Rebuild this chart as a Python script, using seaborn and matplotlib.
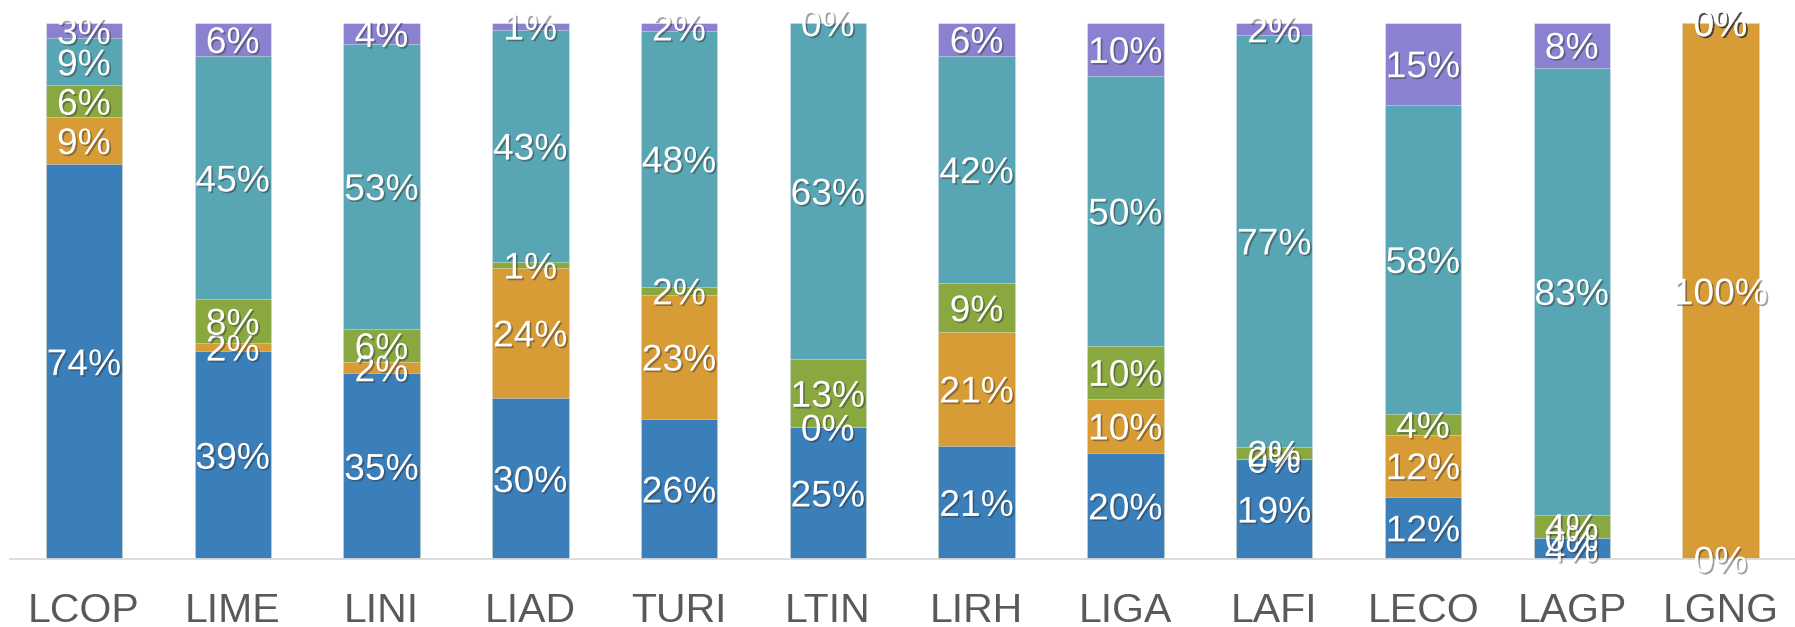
import numpy as np
import matplotlib
matplotlib.use("Agg")
import matplotlib.pyplot as plt
import matplotlib.patheffects as pe
import seaborn as sns

# ---------- DATA (share in %) ----------

categories = ["LCOP", "LIME", "LINI", "LIAD", "TURI", "LTIN",
              "LIRH", "LIGA", "LAFI", "LECO", "LAGP", "LGNG"]

blue_vals   = [73.6, 38.7, 34.6, 30.0, 26.1, 24.6, 21.1, 19.8, 18.6, 11.6, 4.0, 0.0]
orange_vals = [8.8, 1.6, 2.1, 24.3, 23.1, 0.0, 21.2, 10.0, 0.0, 11.6, 0.0, 100.0]
green_vals  = [5.9, 8.1, 6.2, 1.0, 1.6, 12.6, 9.1, 10.0, 2.3, 3.8, 4.2, 0.0]
teal_vals   = [8.8, 45.3, 53.1, 43.4, 47.6, 62.8, 42.4, 50.2, 76.8, 57.7, 83.4, 0.0]
purple_vals = [2.9, 6.3, 4.0, 1.3, 1.6, 0.0, 6.2, 10.0, 2.3, 15.3, 8.4, 0.0]

series = [blue_vals, orange_vals, green_vals, teal_vals, purple_vals]
colors = ["#3A7FB9", "#D89C36", "#8AA840", "#58A6B3", "#8A81D0"]

# ---------- FIGURE ----------

sns.set_style("white")
plt.rcParams["font.family"] = ["Liberation Sans", "DejaVu Sans"]

W, H = 1795, 627
fig = plt.figure(figsize=(W / 100, H / 100), dpi=100)
ax = fig.add_axes([9.6 / W, 68 / H, 1 - 9.6 / W, 536.3 / H])

vals = np.array(series)
tops = np.cumsum(vals, axis=0)
bottoms = tops - vals

# stacked bars: draw cumulative totals from the top series down
for i in range(len(series) - 1, -1, -1):
    sns.barplot(
        x=categories,
        y=tops[i],
        color=colors[i],
        saturation=1,
        width=0.514,
        edgecolor=(1, 1, 1, 0.45),
        linewidth=0.6,
        ax=ax,
    )

# ---------- DATA LABELS ----------

shadow = [pe.SimplePatchShadow(offset=(1.2, -1.2), shadow_rgbFace="#303030", alpha=0.45),
          pe.Normal()]

for i in range(len(series)):
    for j in range(len(categories)):
        ax.text(
            j,
            bottoms[i, j] + vals[i, j] / 2,
            "{:.0f}%".format(vals[i, j]),
            ha="center",
            va="center_baseline",
            color="white",
            fontsize=26.8,
            path_effects=shadow,
            clip_on=False,
        )

# ---------- AXES STYLE ----------

ax.set_xlim(-0.5, len(categories) - 0.5)
ax.set_ylim(0, 100)
ax.set_xlabel("")
ax.set_ylabel("")
ax.set_yticks([])

for side in ["left", "right", "top"]:
    ax.spines[side].set_visible(False)
ax.spines["bottom"].set_color("#D9D9D9")
ax.spines["bottom"].set_linewidth(1.3)

ax.tick_params(axis="x", length=0, pad=23.5, labelsize=29.5, labelcolor="#595959")

fig.savefig("out.png", dpi=100)
